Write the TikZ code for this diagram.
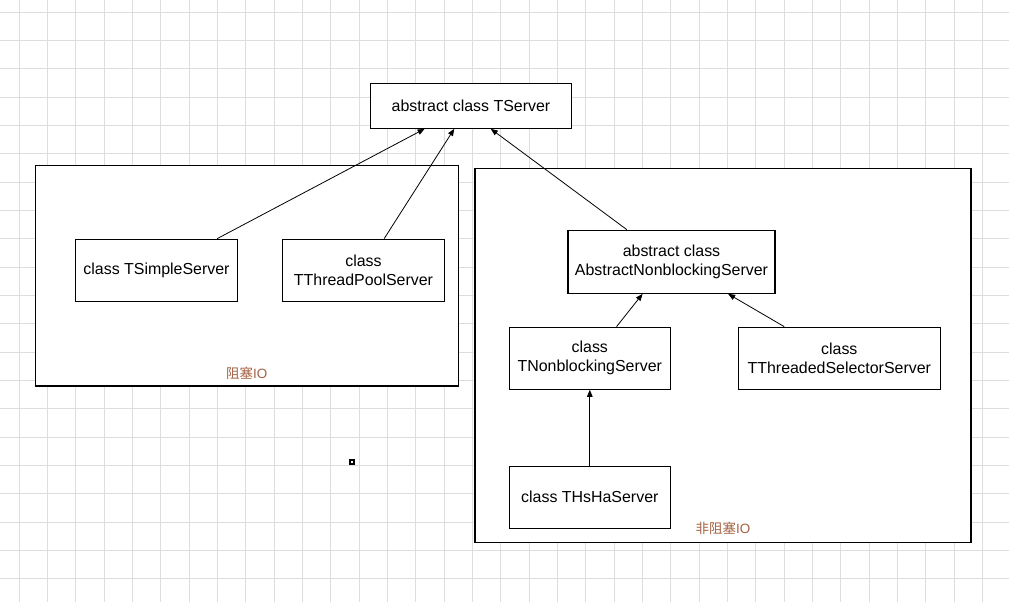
\documentclass[tikz,border=0pt]{standalone}
\usepackage{fontspec}
\setmainfont{Liberation Sans}
\newfontfamily\cjkfont{Noto Sans CJK SC}
\usepackage{xcolor}
\usetikzlibrary{arrows.meta,calc}
\definecolor{gridgray}{RGB}{221,221,221}
\definecolor{iolabel}{RGB}{163,98,66}
\tikzset{
	>={Triangle[length=7bp,width=5.5bp]},
	gridline/.style={draw=gridgray, line width=1bp},
	frame/.style={draw=black, fill=white, line width=1.1bp},
	classbox/.style={
			draw=black, fill=white, line width=1.1bp, inner sep=0pt,
			align=center, minimum height=62bp,
			font=\fontsize{16}{19}\selectfont
		},
	iotext/.style={text=iolabel, inner sep=0pt, font=\fontsize{13.5}{16}\selectfont},
	inherit/.style={->, line width=0.8bp}
}

\begin{document}
\begin{tikzpicture}[x=1bp, y=-1bp]
        \useasboundingbox (0,0) rectangle (1009,602);
        \fill[white] (0,0) rectangle (1009,602);
        % background grid
        \foreach \i in {0,...,34}
            \draw[gridline] ({19.3+28.33*\i},0) -- ({19.3+28.33*\i},602);
        \foreach \j in {0,...,20}
            \draw[gridline] (0,{12.3+28.33*\j}) -- (1009,{12.3+28.33*\j});

        % blocking and non-blocking groups
        \draw[frame] (35.3,165.7) rectangle (458.3,386);
        \draw[frame] (475,168.3) rectangle (971,542.3);
        \node[iotext] (blocking) at (246.7,373) {{\cjkfont 阻塞}IO};
        \node[iotext] (nonblocking) at (723,528.3) {{\cjkfont 非阻塞}IO};
        \draw[line width=1.2bp] (350,460) rectangle (354,464);

        % classes
        \node[classbox, minimum width=200.6bp, minimum height=45bp] (tserver) at (471,105.8) {abstract class TServer};
        \node[classbox, minimum width=161.6bp] (simple) at (156.5,270.2) {class TSimpleServer};
        \node[classbox, minimum width=161.6bp] (pool) at (363.5,270.2) {class\\TThreadPoolServer};
        \node[classbox, minimum width=207bp, minimum height=63bp] (absnb) at (671.5,261.8) {abstract class\\AbstractNonblockingServer};
        \node[classbox, minimum width=161bp] (tnb) at (589.8,358.2) {class\\TNonblockingServer};
        \node[classbox, minimum width=202bp] (selector) at (839.3,358.2) {class\\TThreadedSelectorServer};
        \node[classbox, minimum width=161bp] (hsha) at (589.8,497.3) {class THsHaServer};

        % inheritance
        \draw[inherit] ($(simple.north west)!0.873!(simple.north east)$) -- ($(tserver.south west)!0.27!(tserver.south east)$);
        \draw[inherit] ($(pool.north west)!0.627!(pool.north east)$) -- ($(tserver.south west)!0.417!(tserver.south east)$);
        \draw[inherit] ($(absnb.north west)!0.286!(absnb.north east)$) -- ($(tserver.south west)!0.598!(tserver.south east)$);
        \draw[inherit] ($(tnb.north west)!0.665!(tnb.north east)$) -- ($(absnb.south west)!0.361!(absnb.south east)$);
        \draw[inherit] ($(selector.north west)!0.229!(selector.north east)$) -- ($(absnb.south west)!0.772!(absnb.south east)$);
        \draw[inherit] (hsha.north) -- (tnb.south);
    \end{tikzpicture}
\end{document}
